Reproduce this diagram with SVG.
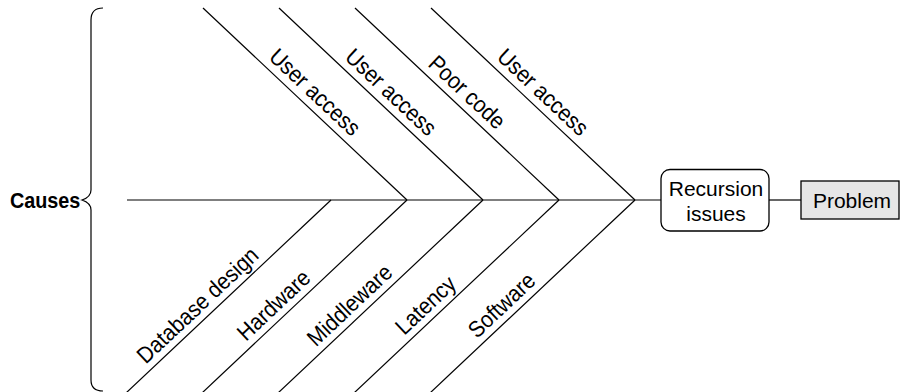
<svg xmlns="http://www.w3.org/2000/svg" width="900" height="392" viewBox="0 0 900 392">
  <style>
    .ln { stroke: #000; stroke-width: 1.2; fill: none; }
    .lbl { font-family: "Liberation Sans", Arial, sans-serif; font-size: 23px; fill: #000; text-anchor: middle; }
    .btx { font-family: "Liberation Sans", Arial, sans-serif; font-size: 21px; fill: #000; text-anchor: middle; }
    .box { stroke: #000; stroke-width: 1.3; }
  </style>
  <rect x="0" y="0" width="900" height="392" fill="#fff"/>

  <g id="connectors">
    <line class="ln" x1="127" y1="200" x2="661" y2="200"/>
    <line class="ln" x1="769" y1="200" x2="801" y2="200"/>
    <line id="bone-u1" class="ln" x1="203" y1="8" x2="407" y2="200"/>
    <line id="bone-u2" class="ln" x1="279" y1="8" x2="483" y2="200"/>
    <line id="bone-u3" class="ln" x1="355" y1="8" x2="559" y2="200"/>
    <line id="bone-u4" class="ln" x1="431" y1="8" x2="635" y2="200"/>
    <line id="bone-l1" class="ln" x1="126" y1="393" x2="331" y2="200"/>
    <line id="bone-l2" class="ln" x1="202" y1="393" x2="407" y2="200"/>
    <line id="bone-l3" class="ln" x1="278" y1="393" x2="483" y2="200"/>
    <line id="bone-l4" class="ln" x1="354" y1="393" x2="559" y2="200"/>
    <line id="bone-l5" class="ln" x1="430" y1="393" x2="635" y2="200"/>
  </g>

  <g id="labels">
    <text class="lbl" transform="translate(315.2,92) rotate(43.26) scale(0.91,1)" dy="0.35em">User access</text>
    <text class="lbl" transform="translate(391.2,92) rotate(43.26) scale(0.91,1)" dy="0.35em">User access</text>
    <text class="lbl" transform="translate(467.2,92) rotate(43.26) scale(0.91,1)" dy="0.35em">Poor code</text>
    <text class="lbl" transform="translate(543.2,92) rotate(43.26) scale(0.91,1)" dy="0.35em">User access</text>
    <text class="lbl" transform="translate(197.4,305) rotate(-43.26) scale(0.91,1)" dy="0.35em">Database design</text>
    <text class="lbl" transform="translate(273.4,305) rotate(-43.26) scale(0.91,1)" dy="0.35em">Hardware</text>
    <text class="lbl" transform="translate(349.4,305) rotate(-43.26) scale(0.91,1)" dy="0.35em">Middleware</text>
    <text class="lbl" transform="translate(425.4,305) rotate(-43.26) scale(0.91,1)" dy="0.35em">Latency</text>
    <text class="lbl" transform="translate(501.4,305) rotate(-43.26) scale(0.91,1)" dy="0.35em">Software</text>
  </g>

  <g id="causes">
    <path class="ln" stroke-width="1.3" d="M103,8 Q91,8 91,20 L91,190 Q91,197 82,200 Q91,203 91,210 L91,380 Q91,391 103,391"/>
    <text transform="translate(10,207.5) scale(0.9,1)" font-family="'Liberation Sans', Arial, sans-serif" font-size="22" font-weight="bold" fill="#000">Causes</text>
  </g>

  <g id="recursion">
    <rect class="box" x="661" y="169.5" width="108" height="61.5" rx="9" fill="#fff"/>
    <text class="btx" x="716" y="196">Recursion</text>
    <text class="btx" x="716" y="220.5">issues</text>
  </g>

  <g id="problem">
    <rect class="box" x="801" y="181" width="98" height="38" fill="#e6e6e6"/>
    <text class="btx" x="852" y="208">Problem</text>
  </g>
</svg>
